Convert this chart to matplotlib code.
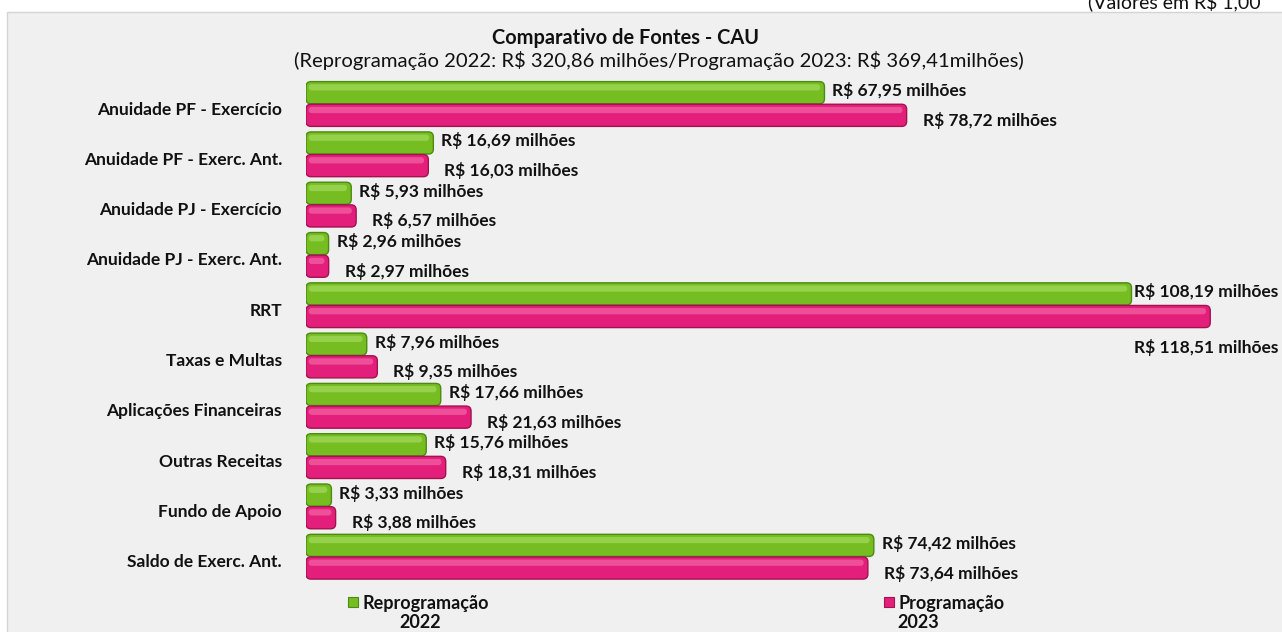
import matplotlib.pyplot as plt
from matplotlib.patches import FancyBboxPatch, Rectangle

# ---------------------------------------------------------------------------
# Data (R$ milhões)
# ---------------------------------------------------------------------------
categories = [
    "Anuidade PF - Exercício",
    "Anuidade PF - Exerc. Ant.",
    "Anuidade PJ - Exercício",
    "Anuidade PJ - Exerc. Ant.",
    "RRT",
    "Taxas e Multas",
    "Aplicações Financeiras",
    "Outras Receitas",
    "Fundo de Apoio",
    "Saldo de Exerc. Ant.",
]
reprog_2022 = [67.95, 16.69, 5.93, 2.96, 108.19, 7.96, 17.66, 15.76, 3.33, 74.42]
prog_2023 = [78.72, 16.03, 6.57, 2.97, 118.51, 9.35, 21.63, 18.31, 3.88, 73.64]

series_names = ["Reprogramação\n2022", "Programação\n2023"]
title = "Comparativo de Fontes - CAU"
subtitle = "(Reprogramação 2022: R$ 320,86 milhões/Programação 2023: R$ 369,41milhões)"
corner_note = "(Valores em R$ 1,00"

GREEN = "#76bd22"
GREEN_EDGE = "#4c8a12"
GREEN_HI = "#b2e36e"
PINK = "#e41f7b"
PINK_EDGE = "#a3124f"
PINK_HI = "#f57ab3"

W, H = 1282, 632
plt.rcParams["font.family"] = ["Lato", "DejaVu Sans"]
plt.rcParams["text.parse_math"] = False


def fmt(v):
    return "R$ " + f"{v:.2f}".replace(".", ",") + " milhões"


fig = plt.figure(figsize=(W / 100, H / 100), dpi=100)
fig.patch.set_facecolor("white")

# chart area background
fig.patches.append(Rectangle((7 / W, -0.01), 1.0, 1.01 - 12 / H, transform=fig.transFigure,
                             facecolor="#f0f0f0", edgecolor="#d4d4d4", lw=1, zorder=-10))

# axes: x=0 at px 306, 7.63 px per unit; rows 50.3 px apart, row 0 centred at px 104
px_per_x = 7.63
left_px = 306
row_px = 50.3
row0_px = 104
ylim_top, ylim_bot = -0.8, 9.8
top_px = row0_px + ylim_top * row_px
bot_px = row0_px + ylim_bot * row_px
ax = fig.add_axes([left_px / W, 1 - bot_px / H, (W - left_px) / W, (bot_px - top_px) / H])
ax.set_xlim(0, (W - left_px) / px_per_x)
ax.set_ylim(ylim_bot, ylim_top)
ax.axis("off")
ax.patch.set_alpha(0)

ys = list(range(len(categories)))
h = 0.44
off = 0.225
g_y = [y - off for y in ys]
p_y = [y + off for y in ys]

# rounded "3D" bars: barh gives the geometry, drawn as rounded boxes
r_x = 5 / px_per_x
aspect = (1 / row_px) / (1 / px_per_x)
for yy, vals, col, ecol, hi in [(g_y, reprog_2022, GREEN, GREEN_EDGE, GREEN_HI),
                                (p_y, prog_2023, PINK, PINK_EDGE, PINK_HI)]:
    bars = ax.barh(yy, vals, height=h, color="none", linewidth=0)
    for b in bars:
        x0, y0, bw, bh = b.get_x(), b.get_y(), b.get_width(), b.get_height()
        ax.add_patch(FancyBboxPatch((x0, y0), bw, bh,
                                    boxstyle=f"round,pad=0,rounding_size={r_x}",
                                    mutation_aspect=aspect, facecolor=col,
                                    edgecolor=ecol, linewidth=1.0, zorder=2))
        ax.add_patch(FancyBboxPatch((x0 + 0.35, y0 + bh * 0.12), max(bw - 0.9, 0.2), bh * 0.28,
                                    boxstyle=f"round,pad=0,rounding_size={r_x * 0.6}",
                                    mutation_aspect=aspect, facecolor=hi,
                                    edgecolor="none", alpha=0.55, zorder=3))

# category labels (sit a little below the group centre, as in the original)
for y, name in zip(ys, categories):
    ax.text(-24 / px_per_x, y + 0.11, name, ha="right", va="center", fontsize=12.5,
            fontweight="bold", color="#111111")

# value labels
xmax = ax.get_xlim()[1]
label_w = 145 / px_per_x
for y, gv, pv in zip(ys, reprog_2022, prog_2023):
    gx = gv + 8 / px_per_x
    if gx + label_w > xmax:
        ax.text(xmax - 4 / px_per_x, y - off - 0.04, fmt(gv), ha="right", va="center",
                fontsize=12.5, fontweight="bold", color="#111111")
    else:
        ax.text(gx, y - off - 0.04, fmt(gv), ha="left", va="center",
                fontsize=12.5, fontweight="bold", color="#111111")
    px_x = pv + 16 / px_per_x
    if px_x + label_w > xmax:
        ax.text(xmax - 4 / px_per_x, y + 0.85, fmt(pv), ha="right", va="center",
                fontsize=12.5, fontweight="bold", color="#111111")
    else:
        ax.text(px_x, y + off + 0.1, fmt(pv), ha="left", va="center",
                fontsize=12.5, fontweight="bold", color="#111111")

# titles
fig.text(625 / W, 1 - 38 / H, title, ha="center", va="center", fontsize=14.4,
         fontweight="bold", color="#111111")
fig.text(659 / W, 1 - 60 / H, subtitle, ha="center", va="center", fontsize=14.6,
         color="#111111")
fig.text(1088 / W, 1 - 8 / H, corner_note, ha="left", va="baseline", fontsize=14,
         color="#111111")

# legend
legend_items = [(353, 420, GREEN, GREEN_EDGE, series_names[0]),
                (889, 918, PINK, PINK_EDGE, series_names[1])]
for sx, cx, col, ecol, name in legend_items:
    first, second = name.split("\n")
    fig.patches.append(Rectangle(((sx - 5) / W, 1 - 607 / H), 10 / W, 10 / H,
                                 transform=fig.transFigure, facecolor=col,
                                 edgecolor=ecol, lw=0.8))
    fig.text((sx + 9) / W, 1 - 603 / H, first, ha="left", va="center",
             fontsize=13, fontweight="bold", color="#111111")
    fig.text(cx / W, 1 - 623 / H, second, ha="center", va="center",
             fontsize=13, fontweight="bold", color="#111111")

fig.savefig("out.png", dpi=100, facecolor=fig.get_facecolor())
